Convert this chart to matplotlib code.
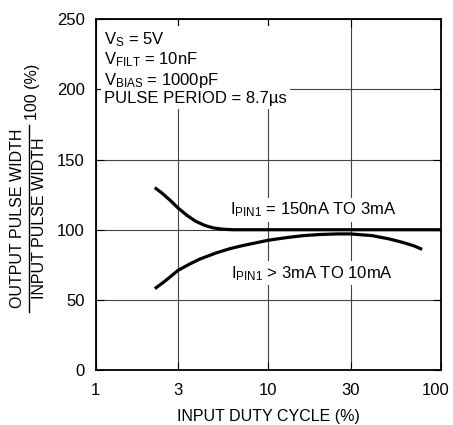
import matplotlib
matplotlib.use("Agg")
import matplotlib.pyplot as plt
import matplotlib.transforms as mtransforms
from matplotlib.lines import Line2D

plt.rcParams['font.family'] = ['Liberation Sans', 'DejaVu Sans']
plt.rcParams['mathtext.default'] = 'regular'

# duty cycle (%) and output/input pulse width ratio (%)
duty_low = [2.2, 2.4, 2.7, 3.0, 3.4, 3.8, 4.3, 4.8, 5.4, 6.2, 10, 30, 100]
ratio_low = [130, 126.5, 121, 115.5, 110, 106, 103, 101.3, 100.4, 100, 100, 100, 100]

duty_high = [2.2, 2.5, 3.0, 3.5, 4.0, 5.0, 6.0, 7.0, 8.0, 10, 13, 16, 20, 25, 30,
             40, 50, 60, 70, 78]
ratio_high = [58, 63, 71, 75.5, 79, 83.5, 86.5, 88.5, 90, 92.5, 94.5, 95.8, 96.6,
              97, 97, 95.8, 93.5, 91, 88.5, 86]

x_ticks = [1, 3, 10, 30, 100]
x_labels = ['1', '3', '10', '30', '100']
y_ticks = [0, 50, 100, 150, 200, 250]

fs = 11.5

fig = plt.figure(figsize=(4.53, 4.25), dpi=100)
ax = fig.add_axes([0.2113, 0.1294, 0.7616, 0.8252])

ax.plot(duty_low, ratio_low, color='black', lw=2.3, zorder=4, solid_capstyle='butt')
ax.plot(duty_high, ratio_high, color='black', lw=2.3, zorder=4, solid_capstyle='butt')

ax.set_xscale('log')
ax.set_xlim(1, 100)
ax.set_ylim(0, 250)
ax.set_xticks(x_ticks)
ax.set_xticklabels(x_labels)
ax.xaxis.set_minor_locator(plt.NullLocator())
ax.set_yticks(y_ticks)
ax.tick_params(direction='in', length=6, width=0.8, labelsize=fs + 0.5,
               top=True, right=True)
ax.tick_params(axis='x', pad=9)
ax.tick_params(axis='y', pad=8)
ax.grid(True, color='#444444', lw=0.8, zorder=1)
ax.set_axisbelow(True)
for s in ax.spines.values():
    s.set_linewidth(1.3)

# nudge the last x label a little left so it stays inside the figure
last = ax.get_xticklabels()[-1]
last.set_transform(last.get_transform() +
                   mtransforms.ScaledTranslation(-5 / 100, 0, fig.dpi_scale_trans))

ax.set_xlabel('INPUT DUTY CYCLE (%)', fontsize=fs, labelpad=8)

box = dict(facecolor='white', edgecolor='none', pad=2)
ax.text(1.12, 242, 'V$_{S}$ = 5V\nV$_{FILT}$ = 10nF\nV$_{BIAS}$ = 1000pF\nPULSE PERIOD = 8.7µs',
        fontsize=fs + 0.5, va='top', ha='left', linespacing=1.1, bbox=box, zorder=3)
ax.text(6.0, 114, 'I$_{PIN1}$ = 150nA TO 3mA', fontsize=fs + 0.5, va='center', ha='left',
        bbox=box, zorder=3)
ax.text(6.1, 69, 'I$_{PIN1}$ > 3mA TO 10mA', fontsize=fs + 0.5, va='center', ha='left',
        bbox=box, zorder=3)

# y label as a fraction
fig.text(18 / 453, 1 - 218 / 425, 'OUTPUT PULSE WIDTH', rotation=90, fontsize=fs,
         ha='center', va='center')
fig.text(40 / 453, 1 - 218 / 425, 'INPUT PULSE WIDTH', rotation=90, fontsize=fs,
         ha='center', va='center')
fig.add_artist(Line2D([28.5 / 453, 28.5 / 453], [1 - 312 / 425, 1 - 125 / 425],
                      color='black', lw=1.0, transform=fig.transFigure))
fig.text(32 / 453, 1 - 92 / 425, '100 (%)', rotation=90, fontsize=fs,
         ha='center', va='center')

fig.savefig('out.png', dpi=100)
